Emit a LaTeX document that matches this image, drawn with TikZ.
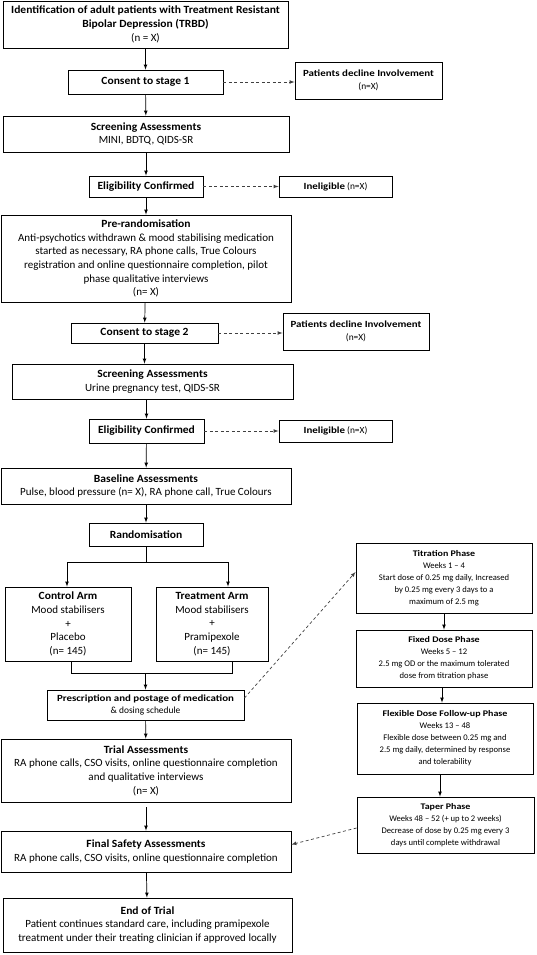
\documentclass[tikz,border=0pt]{standalone}
\usepackage{fontspec}
\setmainfont{Carlito}[BoldFeatures={FakeStretch=1.05}]
\newfontfamily\smallfont{Carlito}[Ligatures=TeX,BoldFeatures={FakeStretch=1.16}]
\begin{document}
\begin{tikzpicture}[x=1pt,y=-1pt,
    box/.style={draw,line width=0.9pt,align=center,inner sep=1pt,font=\fontsize{11}{13.7}\selectfont},
    sbox/.style={box,font=\smallfont\fontsize{8.6}{12}\selectfont},
    nbox/.style={box,font=\smallfont\fontsize{9.4}{12.5}\selectfont},
    arr/.style={-latex,line width=0.7pt},
    dasharr/.style={-latex,line width=0.7pt,dash pattern=on 3pt off 2.5pt,black!75}]
    \useasboundingbox (0,0) rectangle (537,955);

    \node[box,minimum width=285,minimum height=47] (ident) at (145.5,24.5)
        {\textbf{Identification of adult patients with Treatment Resistant}\\
         \textbf{Bipolar Depression (TRBD)}\\ (n = X)};
    \node[box,minimum width=155,minimum height=24] (consent1) at (145.5,82) {\textbf{Consent to stage 1}};
    \node[nbox,minimum width=147,minimum height=37] (decline1) at (368.5,80.5) {\textbf{Patients decline Involvement}\\ (n=X)};
    \node[box,minimum width=286,minimum height=36] (screen1) at (146,134) {\textbf{Screening Assessments}\\ MINI, BDTQ, QIDS-SR};
    \node[box,minimum width=114,minimum height=21] (elig1) at (146,186.5) {\textbf{Eligibility Confirmed}};
    \node[nbox,minimum width=113,minimum height=21] (inelig1) at (335.5,186.5) {\textbf{Ineligible} (n=X)};

    \node[box,minimum width=290,minimum height=87] (prerand) at (146,258.5)
        {\textbf{Pre-randomisation}\\
         Anti-psychotics withdrawn \& mood stabilising medication\\
         started as necessary, RA phone calls, True Colours\\
         registration and online questionnaire completion, pilot\\
         phase qualitative interviews\\ (n= X)};
    \node[box,minimum width=147,minimum height=20] (consent2) at (144.5,333) {\textbf{Consent to stage 2}};
    \node[nbox,minimum width=146,minimum height=37] (decline2) at (356,331.5) {\textbf{Patients decline Involvement}\\ (n=X)};
    \node[box,minimum width=281,minimum height=35] (screen2) at (152.5,381.5) {\textbf{Screening Assessments}\\ Urine pregnancy test, QIDS-SR};
    \node[box,minimum width=115,minimum height=24] (elig2) at (146.5,431) {\textbf{Eligibility Confirmed}};
    \node[nbox,minimum width=113,minimum height=22] (inelig2) at (335.5,431) {\textbf{Ineligible} (n=X)};

    \node[box,minimum width=290,minimum height=36] (baseline) at (146,486)
        {\textbf{Baseline Assessments}\\ Pulse, blood pressure (n= X), RA phone call, True Colours};
    \node[box,minimum width=114,minimum height=23] (random) at (146,534.5) {\textbf{Randomisation}};
    \node[box,minimum width=126,minimum height=74] (control) at (68,624)
        {\textbf{Control Arm}\\ Mood stabilisers\\ +\\ Placebo\\ (n= 145)};
    \node[box,minimum width=112,minimum height=74] (treat) at (212,624)
        {\textbf{Treatment Arm}\\ Mood stabilisers\\ +\\ Pramipexole\\ (n= 145)};
    \node[nbox,minimum width=197,minimum height=30] (prescr) at (145.5,705)
        {\textbf{Prescription and postage of medication}\\ \& dosing schedule};
    \node[box,minimum width=290,minimum height=63] (trial) at (146,770.5)
        {\textbf{Trial Assessments}\\ RA phone calls, CSO visits, online questionnaire completion\\
         and qualitative interviews\\ (n= X)};
    \node[box,minimum width=290,minimum height=41] (safety) at (146,851.5)
        {\textbf{Final Safety Assessments}\\ RA phone calls, CSO visits, online questionnaire completion};
    \node[box,minimum width=289,minimum height=54] (endtrial) at (147.5,925)
        {\textbf{End of Trial}\\ Patient continues standard care, including pramipexole\\
         treatment under their treating clinician if approved locally};

    \node[sbox,minimum width=176,minimum height=70] (titration) at (444,578)
        {\textbf{Titration Phase}\\ Weeks 1 -- 4\\ Start dose of 0.25 mg daily, Increased\\
         by 0.25 mg every 3 days to a\\ maximum of 2.5 mg};
    \node[sbox,minimum width=176,minimum height=57] (fixdose) at (444,658.5)
        {\textbf{Fixed Dose Phase}\\ Weeks 5 -- 12\\ 2.5 mg OD or the maximum tolerated\\ dose from titration phase};
    \node[sbox,minimum width=176,minimum height=71] (flexdose) at (445,738.5)
        {\textbf{Flexible Dose Follow-up Phase}\\ Weeks 13 -- 48\\ Flexible dose between 0.25 mg and\\
         2.5 mg daily, determined by response\\ and tolerability};
    \node[sbox,minimum width=177,minimum height=56] (taper) at (445.5,825)
        {\textbf{Taper Phase}\\ Weeks 48 -- 52 (+ up to 2 weeks)\\ Decrease of dose by 0.25 mg every 3\\
         days until complete withdrawal};

    \draw[arr] (ident) -- (consent1);
    \draw[arr] (consent1) -- (screen1);
    \draw[arr] (screen1) -- (elig1);
    \draw[arr] (elig1) -- (prerand);
    \draw[arr] (prerand) -- (consent2);
    \draw[arr] (consent2) -- (screen2.north -| consent2);
    \draw[arr] (screen2.south -| elig2) -- (elig2);
    \draw[arr] (elig2) -- (baseline);
    \draw[arr] (baseline) -- (random);

    \draw[dasharr] (consent1) -- (decline1.west |- consent1);
    \draw[dasharr] (elig1) -- (inelig1);
    \draw[dasharr] (consent2) -- (decline2.west |- consent2);
    \draw[dasharr] (elig2) -- (inelig2);

    \coordinate (splitL) at (67,562);
    \coordinate (splitR) at (228,562);
    \draw[line width=0.7pt] (random) -- (random |- splitL);
    \draw[line width=0.7pt] (splitL) -- (splitR);
    \draw[arr] (splitL) -- (splitL |- control.north);
    \draw[arr] (splitR) -- (splitR |- treat.north);

    \coordinate (joinL) at (71,673);
    \coordinate (joinR) at (232,673);
    \draw[line width=0.7pt] (joinL |- control.south) -- (joinL) -- (joinR) -- (joinR |- treat.south);
    \draw[arr] (prescr |- joinL) -- (prescr);

    \draw[arr] (prescr) -- (trial);
    \draw[arr] ([yshift=-5]trial.south) -- (safety);
    \draw[arr] (safety) -- (endtrial);

    \draw[arr] (titration.south -| 444,0) -- (fixdose.north -| 444,0);
    \draw[arr] (fixdose.south -| 442,0) -- (flexdose.north -| 442,0);
    \draw[arr] (flexdose.south -| 440,0) -- (taper.north -| 440,0);

    \draw[dasharr] ([yshift=7]prescr.east) -- ([yshift=6]titration.west);
    \draw[dasharr] ([yshift=-3]taper.west) -- ([yshift=7]safety.east);
\end{tikzpicture}
\end{document}
